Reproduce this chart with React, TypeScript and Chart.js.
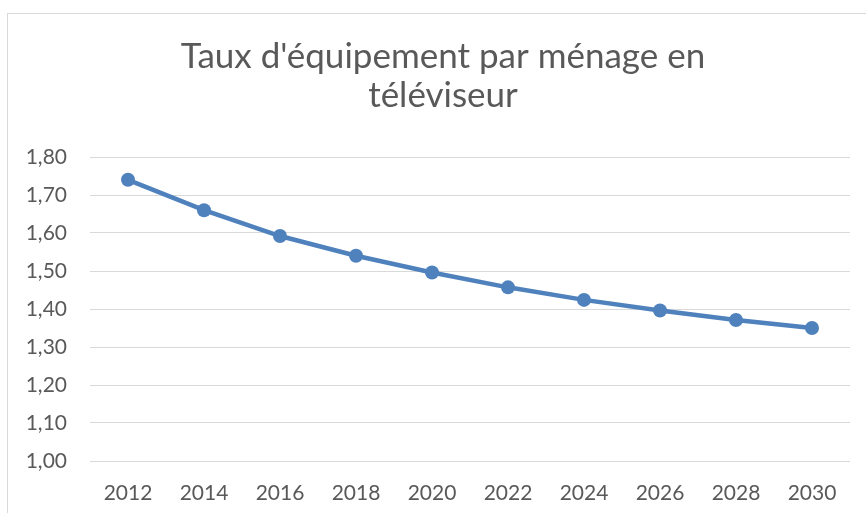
import React, { useEffect, useRef } from "react";
import { Chart, registerables } from "chart.js";

Chart.register(...registerables);

const categories = ["2012", "2014", "2016", "2018", "2020", "2022", "2024", "2026", "2028", "2030"];
const values = [1.74, 1.66, 1.592, 1.54, 1.496, 1.457, 1.424, 1.396, 1.371, 1.35];
const titleLines = ["Taux d'équipement par ménage en", "téléviseur"];
const yMin = 1.0;
const yMax = 1.8;
const yStep = 0.1;

const TEXT = "#595959";
const LINE = "#4F81BD";
const FONT = "Lato, 'Noto Sans', sans-serif";

const titlePlugin = {
  id: "customTitle",
  afterDraw(chart: any) {
    const ctx = chart.ctx;
    ctx.save();
    ctx.fillStyle = TEXT;
    ctx.font = `35px ${FONT}`;
    ctx.textAlign = "center";
    ctx.textBaseline = "alphabetic";
    const baselines = [68, 107];
    titleLines.forEach((t, i) => ctx.fillText(t, 443, baselines[i]));
    ctx.restore();
  },
};

export default function App() {
  const ref = useRef<HTMLCanvasElement>(null);
  useEffect(() => {
    document.body.style.margin = "0";
    const chart = new Chart(ref.current as HTMLCanvasElement, {
      type: "line",
      data: {
        labels: categories,
        datasets: [
          {
            data: values,
            borderColor: LINE,
            backgroundColor: LINE,
            borderWidth: 4.5,
            pointRadius: 7,
            pointHoverRadius: 7,
            pointBackgroundColor: LINE,
            pointBorderColor: LINE,
            pointBorderWidth: 0,
            tension: 0,
          },
        ],
      },
      options: {
        animation: false,
        responsive: false,
        maintainAspectRatio: false,
        layout: { padding: { top: 157, right: 16, bottom: 0, left: 0 } },
        plugins: { legend: { display: false }, title: { display: false }, tooltip: { enabled: false } },
        scales: {
          x: {
            offset: true,
            grid: { display: false, drawTicks: false },
            border: { display: false },
            ticks: { color: TEXT, font: { family: FONT, size: 21 }, padding: 20, maxRotation: 0 },
            afterFit(scale: any) {
              scale.height = 52;
            },
          },
          y: {
            min: yMin,
            max: yMax,
            grid: { color: "#d9d9d9", lineWidth: 1, drawTicks: false },
            border: { display: false },
            ticks: {
              stepSize: yStep,
              color: TEXT,
              font: { family: FONT, size: 21 },
              padding: 23,
              callback: (v: any) => Number(v).toFixed(2).replace(".", ","),
            },
            afterFit(scale: any) {
              scale.width = 90;
            },
          },
        },
      },
      plugins: [titlePlugin],
    });
    return () => chart.destroy();
  }, []);
  return (
    <div style={{ position: "absolute", left: 0, top: 0, width: 866, height: 513, background: "#fff", overflow: "hidden" }}>
      <div
        style={{
          position: "absolute",
          left: 7,
          top: 13,
          width: 900,
          height: 600,
          borderLeft: "1px solid #d9d9d9",
          borderTop: "1px solid #d9d9d9",
        }}
      />
      <canvas ref={ref} width={866} height={513} style={{ position: "absolute", left: 0, top: 0 }} />
    </div>
  );
}
